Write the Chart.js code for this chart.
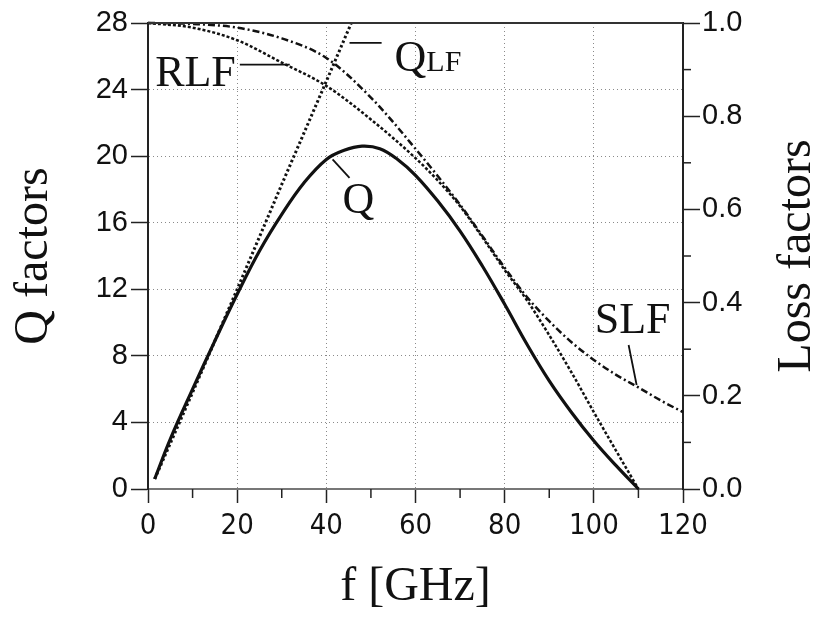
<!DOCTYPE html>
<html>
<head>
<meta charset="utf-8">
<script src="https://cdn.jsdelivr.net/npm/chart.js@4"></script>
<style>
  html, body { margin: 0; padding: 0; background: #fff; }
</style>
</head>
<body>
<canvas id="myChart" width="817" height="618"></canvas>
<script>
// Q (left axis)
const qFreq = [1.5, 5, 10, 15, 20, 25, 30, 35, 40, 44, 48, 52, 56, 60, 65, 70, 75, 80, 85, 90, 95, 100, 105, 110]
const qValues = [0.6, 3.0, 6.0, 8.9, 11.7, 14.3, 16.5, 18.4, 19.8, 20.35, 20.6, 20.45, 19.8, 18.85, 17.3, 15.5, 13.4, 11.1, 8.7, 6.5, 4.6, 2.9, 1.4, 0.0]

// Q_LF (left axis)
const qlfFreq = [1.5, 10, 20, 30, 40, 45.6]
const qlfValues = [0.6, 5.8, 12.0, 18.3, 24.5, 28]

// RLF and SLF (right axis)
const rlfFreq = [0, 10, 20, 30, 40, 50, 60, 65, 70, 75, 80, 85, 90, 95, 100, 105, 110]
const rlfValues = [1.0, 0.99, 0.963, 0.915, 0.865, 0.793, 0.71, 0.662, 0.607, 0.54, 0.47, 0.405, 0.33, 0.25, 0.165, 0.082, 0.0]

const slfFreq = [0, 10, 20, 30, 40, 50, 60, 70, 75, 80, 85, 90, 95, 100, 105, 110, 115, 120]
const slfValues = [1.0, 0.998, 0.99, 0.967, 0.925, 0.84, 0.73, 0.61, 0.543, 0.475, 0.412, 0.36, 0.315, 0.277, 0.245, 0.218, 0.19, 0.165]

// minor tick values
const xMinor = [10, 30, 50, 70, 90, 110]
const y2Minor = [0.1, 0.3, 0.5, 0.7, 0.9]

const serif = "'Liberation Serif', 'Times New Roman', serif"
const sans = "'Liberation Sans', Arial, sans-serif"
const ink = '#111'

// curve labels, in data coordinates of x / left axis
const notes = [
  { text: 'RLF', x: 1.6, y: 24.2, line: [20.6, 25.5, 31.8, 25.5] },
  { text: 'Q', x: 43.6, y: 16.6, line: [41.4, 19.8, 45.2, 18.7] },
  { text: 'Q', sub: 'LF', x: 55.3, y: 25.1, line: [45.2, 26.8, 52.4, 26.8] },
  { text: 'SLF', x: 100.2, y: 9.4, line: [107.8, 8.65, 109.6, 6.25] }
]

const toPoints = (xs, ys) => xs.map((x, i) => ({ x: x, y: ys[i] }))

const overlay = {
  id: 'overlay',
  afterDraw(chart) {
    const { ctx, chartArea } = chart
    const x = chart.scales.x, y = chart.scales.y, y2 = chart.scales.y2
    ctx.save()

    // top frame line
    ctx.strokeStyle = '#333'
    ctx.lineWidth = 2
    ctx.beginPath()
    ctx.moveTo(chartArea.left, chartArea.top)
    ctx.lineTo(chartArea.right, chartArea.top)
    ctx.stroke()

    // minor ticks
    ctx.strokeStyle = '#222'
    ctx.lineWidth = 1.5
    xMinor.forEach(v => {
      const px = x.getPixelForValue(v)
      ctx.beginPath()
      ctx.moveTo(px, chartArea.bottom)
      ctx.lineTo(px, chartArea.bottom + 9)
      ctx.stroke()
    })
    y2Minor.forEach(v => {
      const py = y2.getPixelForValue(v)
      ctx.beginPath()
      ctx.moveTo(chartArea.right, py)
      ctx.lineTo(chartArea.right + 8, py)
      ctx.stroke()
    })

    // curve labels
    ctx.fillStyle = ink
    ctx.strokeStyle = ink
    ctx.lineWidth = 1.8
    ctx.textBaseline = 'alphabetic'
    ctx.textAlign = 'left'
    notes.forEach(n => {
      const px = x.getPixelForValue(n.x), py = y.getPixelForValue(n.y)
      ctx.font = '44px ' + serif
      ctx.fillText(n.text, px, py)
      if (n.sub) {
        const w = ctx.measureText(n.text).width
        ctx.font = '30px ' + serif
        ctx.fillText(n.sub, px + w, py)
      }
      ctx.beginPath()
      ctx.moveTo(x.getPixelForValue(n.line[0]), y.getPixelForValue(n.line[1]))
      ctx.lineTo(x.getPixelForValue(n.line[2]), y.getPixelForValue(n.line[3]))
      ctx.stroke()
    })

    // right axis title, reading upwards
    ctx.font = '48px ' + serif
    ctx.textAlign = 'center'
    ctx.textBaseline = 'middle'
    ctx.translate(y2.right - 20, (chartArea.top + chartArea.bottom) / 2)
    ctx.rotate(-Math.PI / 2)
    ctx.fillText('Loss factors', 0, 0)
    ctx.restore()
  }
}

const data = {
  datasets: [
    {
      label: 'Q',
      data: toPoints(qFreq, qValues),
      yAxisID: 'y',
      borderColor: ink,
      borderWidth: 3.2,
      tension: 0.4
    },
    {
      label: 'QLF',
      data: toPoints(qlfFreq, qlfValues),
      yAxisID: 'y',
      borderColor: ink,
      borderWidth: 3,
      borderDash: [2.5, 2.5],
      tension: 0
    },
    {
      label: 'RLF',
      data: toPoints(rlfFreq, rlfValues),
      yAxisID: 'y2',
      borderColor: ink,
      borderWidth: 2.5,
      borderDash: [3, 2],
      cubicInterpolationMode: 'monotone'
    },
    {
      label: 'SLF',
      data: toPoints(slfFreq, slfValues),
      yAxisID: 'y2',
      borderColor: ink,
      borderWidth: 2.5,
      borderDash: [7, 3, 2, 3],
      cubicInterpolationMode: 'monotone'
    }
  ]
}

const dotted = ctx => (ctx.tick && (ctx.tick.value === ctx.scale.min || ctx.tick.value === ctx.scale.max)) ? 'rgba(0,0,0,0)' : '#8a8a8a'

const config = {
  type: 'line',
  data: data,
  plugins: [overlay],
  options: {
    responsive: false,
    animation: false,
    devicePixelRatio: 1,
    layout: { padding: { top: 23, left: 0, right: 0, bottom: 0 } },
    elements: { point: { radius: 0 } },
    datasets: { line: { clip: false, fill: false } },
    plugins: { legend: { display: false }, tooltip: { enabled: false } },
    scales: {
      x: {
        type: 'linear',
        min: 0,
        max: 120,
        ticks: { stepSize: 20, color: ink, padding: 6, font: { family: "'Liberation Sans Narrow', 'DejaVu Sans Condensed', " + sans, size: 29 } },
        grid: { color: dotted, lineWidth: 1, tickLength: 14, tickColor: '#222', tickWidth: 1.5 },
        border: { color: '#777', width: 2, dash: [1, 3] },
        title: { display: true, text: 'f [GHz]', color: ink, font: { family: serif, size: 48 }, padding: { top: 0, bottom: 2 } },
        afterFit: s => { s.height = 129 }
      },
      y: {
        position: 'left',
        min: 0,
        max: 28,
        ticks: { stepSize: 4, color: ink, padding: 3, font: { family: sans, size: 29 } },
        grid: { color: dotted, lineWidth: 1, tickLength: 17, tickColor: '#222', tickWidth: 1.5 },
        border: { color: '#222', width: 2, dash: [1, 3] },
        title: { display: true, text: 'Q factors', color: ink, font: { family: serif, size: 48 }, padding: { top: 6, bottom: 0 } },
        afterFit: s => { s.width = 148 }
      },
      y2: {
        position: 'right',
        min: 0,
        max: 1,
        ticks: { stepSize: 0.2, color: ink, padding: 2, font: { family: sans, size: 29 }, callback: v => v.toFixed(1) },
        grid: { drawOnChartArea: false, tickLength: 17, tickColor: '#222', tickWidth: 1.5 },
        border: { color: '#222', width: 2 },
        afterFit: s => { s.width = 134 }
      }
    }
  }
}

const myChart = new Chart(document.getElementById('myChart'), config)
</script>
</body>
</html>
